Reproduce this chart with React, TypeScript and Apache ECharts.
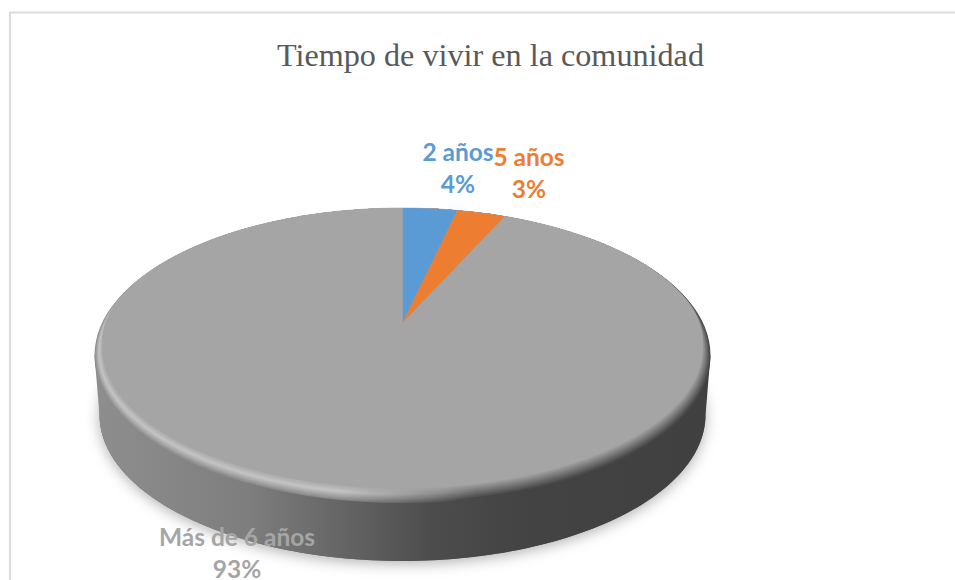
import React, { useEffect, useRef } from "react";
import * as echarts from "echarts";

const TITLE = "Tiempo de vivir en la comunidad";
const categories = ["2 años", "5 años", "Más de 6 años"];
const shares = [3.5, 3.1, 93.4];
const sliceColors = ["#5b9bd5", "#ed7d31", "#a5a5a5"];
const labelAnchors = [[458, 167.5], [529, 172.5], [237, 552.5]];

const TOP_OUTER = { cx: 402.5, cy: 355.5, rx: 308, ry: 147.5 };
const TOP_INNER = { cx: 402.5, cy: 348, rx: 300, ry: 140 };
const BOTTOM = { cx: 402.5, cy: 415, rx: 303, ry: 146 };
const APEX = { x: 402.5, y: 323 };
const BAND_COUNT = 14;

const rgb = (h: string) => [1, 3, 5].map((i) => parseInt(h.slice(i, i + 2), 16));
const mix = (a: string, b: string, t: number) => {
  const A = rgb(a), B = rgb(b);
  return "rgb(" + A.map((v, i) => Math.round(v + (B[i] - v) * t)).join(",") + ")";
};
const ramp = (stops: [number, string][], t: number) => {
  for (let i = 1; i < stops.length; i++) {
    if (t <= stops[i][0]) {
      const [t0, c0] = stops[i - 1];
      const [t1, c1] = stops[i];
      return mix(c0, c1, (t - t0) / (t1 - t0));
    }
  }
  return mix(stops[stops.length - 1][1], stops[stops.length - 1][1], 0);
};
const leftRamp: [number, string][] = [[0, "#8a8a8a"], [0.3, "#acacac"], [0.55, "#c4c4c4"], [1, "#a5a5a5"]];
const rightRamp: [number, string][] = [[0, "#444444"], [1, "#a5a5a5"]];

const hGradient = (stops: [number, string][]) => ({
  type: "linear", x: 0, y: 0, x2: 1, y2: 0, global: false,
  colorStops: stops.map(([offset, color]) => ({ offset, color })),
});

// Perspective: the pie's centre sits above the ellipse's centre.
const a = (TOP_INNER.cy - APEX.y) / TOP_INNER.ry;
const p = (1 - Math.sqrt(1 - a * a)) / a;
const k = (1 - p) / (1 + p);
const project = (fraction: number) => {
  const half = Math.PI * fraction;
  const phi = 2 * Math.atan2(k * Math.sin(half), Math.cos(half));
  return [TOP_INNER.cx + TOP_INNER.rx * Math.sin(phi), TOP_INNER.cy - TOP_INNER.ry * Math.cos(phi)];
};

const total = shares.reduce((s, v) => s + v, 0);

const renderBase = () => {
  const children: any[] = [];
  children.push({
    type: "ellipse",
    shape: { cx: BOTTOM.cx, cy: BOTTOM.cy, rx: BOTTOM.rx, ry: BOTTOM.ry },
    style: { fill: "#6a6a6a", shadowBlur: 14, shadowColor: "rgba(0,0,0,0.3)", shadowOffsetY: 3 },
  });
  const side: number[][] = [[TOP_OUTER.cx - TOP_OUTER.rx, TOP_OUTER.cy]];
  for (let i = 0; i <= 120; i++) {
    const t = Math.PI * (i / 120);
    side.push([BOTTOM.cx - BOTTOM.rx * Math.cos(t), BOTTOM.cy + BOTTOM.ry * Math.sin(t)]);
  }
  side.push([TOP_OUTER.cx + TOP_OUTER.rx, TOP_OUTER.cy]);
  children.push({
    type: "polygon",
    shape: { points: side },
    style: {
      fill: hGradient([[0, "#8e8e8e"], [0.25, "#7e7e7e"], [0.42, "#626262"], [0.55, "#4c4c4c"], [0.7, "#434343"], [1, "#404040"]]),
    },
  });
  for (let i = 0; i < BAND_COUNT; i++) {
    const t = i / (BAND_COUNT - 1);
    const L = ramp(leftRamp, t);
    const R = ramp(rightRamp, t);
    children.push({
      type: "ellipse",
      shape: {
        cx: TOP_OUTER.cx,
        cy: TOP_OUTER.cy + (TOP_INNER.cy - TOP_OUTER.cy) * t,
        rx: TOP_OUTER.rx + (TOP_INNER.rx - TOP_OUTER.rx) * t,
        ry: TOP_OUTER.ry + (TOP_INNER.ry - TOP_OUTER.ry) * t,
      },
      style: {
        fill: {
          type: "linear", x: 0, y: 0, x2: 1, y2: 0, global: false,
          colorStops: [
            { offset: 0, color: L },
            { offset: 0.4, color: L },
            { offset: 0.62, color: R },
            { offset: 1, color: R },
          ],
        },
      },
    });
  }
  // The rim fades out over the far half of the disc.
  const cap: number[][] = [];
  const limit = 88;
  for (let d = -limit; d <= limit; d += 2) {
    const u = Math.abs(d) / limit;
    const w = u * u * u * u;
    const e = {
      cy: TOP_OUTER.cy + (TOP_INNER.cy - TOP_OUTER.cy) * w,
      rx: TOP_OUTER.rx + (TOP_INNER.rx - TOP_OUTER.rx) * w,
      ry: TOP_OUTER.ry + (TOP_INNER.ry - TOP_OUTER.ry) * w,
    };
    const r = (d * Math.PI) / 180;
    cap.push([TOP_OUTER.cx + e.rx * Math.sin(r), e.cy - e.ry * Math.cos(r)]);
  }
  children.push({
    type: "polygon",
    shape: { points: cap },
    style: { fill: "#a5a5a5", stroke: "#a5a5a5", lineWidth: 0.6 },
  });
  return { type: "group", children };
};

const renderSlice = (params: any, api: any) => {
  const i = params.dataIndex;
  const before = shares.slice(0, i).reduce((s, v) => s + v, 0);
  const start = before / total;
  const end = (before + api.value(0)) / total;
  const steps = Math.max(6, Math.ceil((end - start) * 240));
  const pts: number[][] = [[APEX.x, APEX.y]];
  for (let s = 0; s <= steps; s++) pts.push(project(start + ((end - start) * s) / steps));
  return {
    type: "polygon",
    shape: { points: pts },
    style: { fill: sliceColors[i] },
  };
};

const renderLabel = (params: any, api: any) => {
  const i = params.dataIndex;
  const line = (text: string, dy: number) => ({
    type: "text",
    x: labelAnchors[i][0],
    y: labelAnchors[i][1] + dy,
    style: {
      text,
      fill: sliceColors[i],
      font: 'bold 24.5px Lato, "Noto Sans", sans-serif',
      lineHeight: 18,
      align: "center",
      verticalAlign: "middle",
    },
  });
  return {
    type: "group",
    children: [line(categories[i], -16), line(Math.round(api.value(0)) + "%", 16)],
  };
};

export default function App() {
  const ref = useRef<HTMLDivElement>(null);
  useEffect(() => {
    if (!ref.current) return;
    const chart = echarts.init(ref.current, undefined, { renderer: "svg" });
    chart.setOption({
      animation: false,
      backgroundColor: "#ffffff",
      title: {
        text: TITLE,
        left: 485.5,
        top: 34,
        textAlign: "center",
        textStyle: { fontFamily: '"Liberation Serif", serif', fontWeight: "normal", fontSize: 32.2, color: "#595959" },
      },
      graphic: [
        { type: "line", shape: { x1: 10, y1: 12.5, x2: 955, y2: 12.5 }, style: { stroke: "#dcdcdc", lineWidth: 2 } },
        { type: "line", shape: { x1: 10, y1: 12, x2: 10, y2: 580 }, style: { stroke: "#dcdcdc", lineWidth: 2 } },
      ],
      series: [
        { type: "custom", coordinateSystem: "none", silent: true, clip: false, z: 1, data: [0], renderItem: renderBase },
        {
          type: "custom", coordinateSystem: "none", silent: true, clip: false, z: 2,
          data: shares.map((value, i) => ({ name: categories[i], value })),
          renderItem: renderSlice,
        },
        {
          type: "custom", coordinateSystem: "none", silent: true, clip: false, z: 3,
          data: shares.map((value, i) => ({ name: categories[i], value })),
          renderItem: renderLabel,
        },
      ],
    });
    return () => chart.dispose();
  }, []);
  return <div ref={ref} style={{ position: "absolute", left: 0, top: 0, width: 955, height: 580 }} />;
}
